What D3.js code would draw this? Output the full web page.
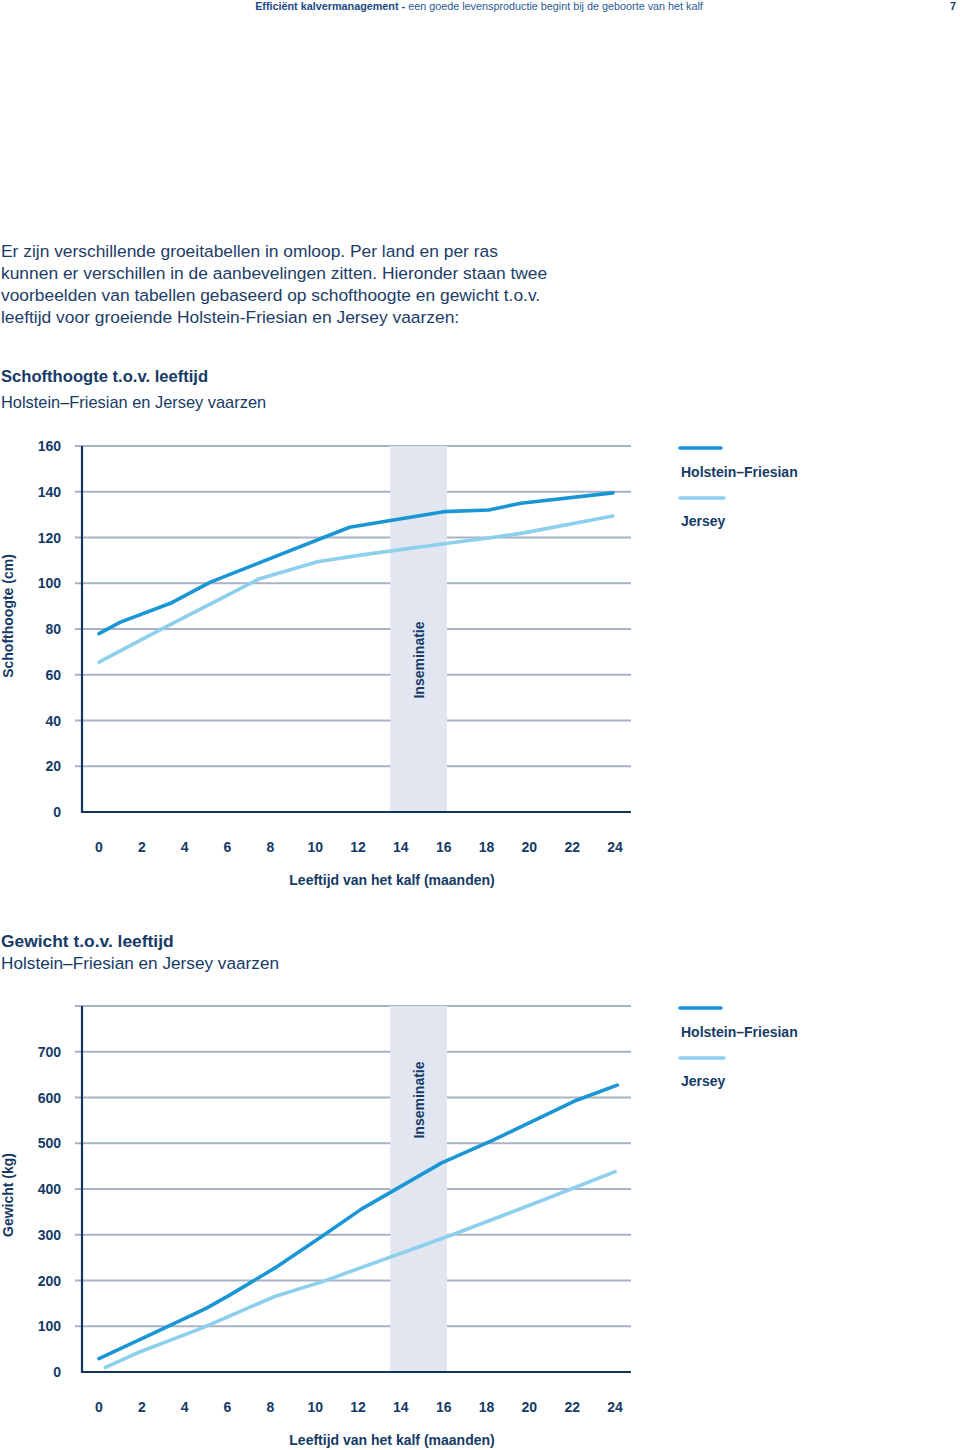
<!DOCTYPE html>
<html><head><meta charset="utf-8">
<script src="https://cdn.jsdelivr.net/npm/d3@7"></script>
<style>
body{margin:0;background:#fff;}
svg text{font-family:"Liberation Sans",Arial,Helvetica,sans-serif;}
</style></head>
<body><svg id="c" width="960" height="1450"></svg>
<script>
// ---- data ----
const xTicks = [0,2,4,6,8,10,12,14,16,18,20,22,24];
const heightTicks = [0,20,40,60,80,100,120,140,160];
const weightTicks = [0,100,200,300,400,500,600,700];
const weightGrid = [0,100,200,300,400,500,600,700,800];
const inseminationBand = [13.6, 16.25];
const seriesNames = ["Holstein–Friesian","Jersey"];

const heightHolstein = [[0,78],[1,83],[3.4,91.5],[5.2,100.5],[11.7,124.5],[16.1,131.3],[18.2,132],[19.7,135],[24,139.5]];
const heightJersey = [[0,65.5],[2.85,79.6],[7.5,102],[10.2,109.4],[12.2,112.3],[16.1,117.3],[18.2,119.8],[19.7,121.8],[24,129.4]];
const weightHolstein = [[0,29],[3,95],[5,139],[6.1,168],[8.2,227],[10.4,296],[12.25,356],[16,457],[18.4,507],[22.3,594],[24.2,627]];
const weightJersey = [[0.3,10],[1.8,42],[4.8,96],[8.2,165],[10.4,197],[16.5,300],[20.8,377],[24.1,438]];

// ---- style ----
const NAVY = "#163a66", AXIS="#123660", GRID="#aab2c8", BAND="#e1e6f0";
const C_HF = "#1a96d5", C_J = "#8dcfec";
const svg = d3.select("#c");

// header
const hdr = svg.append("text").attr("x",479).attr("y",10).attr("text-anchor","middle")
  .attr("font-size",10.8).attr("fill","#2a5a96");
hdr.append("tspan").attr("font-weight","bold").attr("fill","#1b4a86").text("Efficiënt kalvermanagement - ");
hdr.append("tspan").text("een goede levensproductie begint bij de geboorte van het kalf");
svg.append("text").attr("x",956).attr("y",10).attr("text-anchor","end").attr("font-size",10.8)
  .attr("font-weight","bold").attr("fill",NAVY).text("7");

// paragraph
const para = ["Er zijn verschillende groeitabellen in omloop. Per land en per ras",
 "kunnen er verschillen in de aanbevelingen zitten. Hieronder staan twee",
 "voorbeelden van tabellen gebaseerd op schofthoogte en gewicht t.o.v.",
 "leeftijd voor groeiende Holstein-Friesian en Jersey vaarzen:"];
para.forEach((t,i)=>svg.append("text").attr("x",1).attr("y",257+i*22).attr("font-size",17.4)
  .attr("fill","#1d3d68").text(t));

function chart(o){
  const g = svg.append("g");
  g.append("text").attr("x",1).attr("y",o.titleY).attr("font-size",o.fs1).attr("font-weight","bold")
    .attr("fill",NAVY).text(o.title);
  g.append("text").attr("x",1).attr("y",o.titleY+o.subGap).attr("font-size",o.fs2)
    .attr("fill",NAVY).text("Holstein–Friesian en Jersey vaarzen");

  const x = d3.scaleLinear().domain([0,24]).range([99,613]);
  const y = d3.scaleLinear().domain([0,o.max]).range([o.base, o.base-366]);

  // gridlines
  g.selectAll(".grid").data(o.grid.filter(d=>d>0)).join("line")
    .attr("x1",75).attr("x2",631).attr("y1",d=>y(d)).attr("y2",d=>y(d))
    .attr("stroke",GRID).attr("stroke-width",2);
  // band
  g.append("rect").attr("x",x(inseminationBand[0])).attr("width",x(inseminationBand[1])-x(inseminationBand[0]))
    .attr("y",y(o.max)).attr("height",y(0)-y(o.max)).attr("fill",BAND);
  g.append("text").attr("transform",`translate(${(x(inseminationBand[0])+x(inseminationBand[1]))/2+5},${o.inseY}) rotate(-90)`)
    .attr("text-anchor","middle").attr("font-size",14).attr("font-weight","bold").attr("fill",NAVY).text("Inseminatie");

  // axes
  g.append("line").attr("x1",82).attr("x2",82).attr("y1",y(o.max)).attr("y2",y(0)+1)
    .attr("stroke",AXIS).attr("stroke-width",2.2);
  g.append("line").attr("x1",81).attr("x2",631).attr("y1",y(0)).attr("y2",y(0))
    .attr("stroke",AXIS).attr("stroke-width",2.2);

  // y tick labels
  g.selectAll(".yt").data(o.ticks).join("text")
    .attr("x",61).attr("y",d=>y(d)+5).attr("text-anchor","end")
    .attr("font-size",14).attr("font-weight","bold").attr("fill",NAVY).text(d=>d);
  // x tick labels
  g.selectAll(".xt").data(xTicks).join("text")
    .attr("x",d=>x(d)+(d>=10?2:0)).attr("y",o.base+40).attr("text-anchor","middle")
    .attr("font-size",14).attr("font-weight","bold").attr("fill",NAVY).text(d=>d);
  g.append("text").attr("x",392).attr("y",o.base+73).attr("text-anchor","middle")
    .attr("font-size",14).attr("font-weight","bold").attr("fill",NAVY).text("Leeftijd van het kalf (maanden)");
  g.append("text").attr("transform",`translate(13,${o.yTitleY}) rotate(-90)`).attr("text-anchor","middle")
    .attr("font-size",14).attr("font-weight","bold").attr("fill",NAVY).text(o.yTitle);

  // lines
  const line = d3.line().x(d=>x(d[0])).y(d=>y(d[1]));
  [[o.hf,C_HF],[o.j,C_J]].forEach(([data,col])=>{
    g.append("path").datum(data).attr("d",line).attr("fill","none").attr("stroke",col)
      .attr("stroke-width",3.6).attr("stroke-linecap","round").attr("stroke-linejoin","round");
  });

  // legend
  const ly = y(o.max);
  [[C_HF,0],[C_J,1]].forEach(([col,i])=>{
    g.append("line").attr("x1",680).attr("x2",i?724:721).attr("y1",ly+2+i*50).attr("y2",ly+2+i*50)
      .attr("stroke",col).attr("stroke-width",3.6).attr("stroke-linecap","round");
    g.append("text").attr("x",681).attr("y",ly+31+i*49).attr("font-size",14).attr("font-weight","bold")
      .attr("fill",NAVY).text(seriesNames[i]);
  });
}

chart({title:"Schofthoogte t.o.v. leeftijd", titleY:382, subGap:26, fs1:16.6, fs2:16.4, base:812, max:160, ticks:heightTicks, grid:heightTicks,
  hf:heightHolstein, j:heightJersey, inseY:660, yTitle:"Schofthoogte (cm)", yTitleY:616});
chart({title:"Gewicht t.o.v. leeftijd", titleY:947, subGap:22, fs1:17.4, fs2:17.2, base:1372, max:800, ticks:weightTicks, grid:weightGrid,
  hf:weightHolstein, j:weightJersey, inseY:1100, yTitle:"Gewicht (kg)", yTitleY:1195});
</script></body></html>
